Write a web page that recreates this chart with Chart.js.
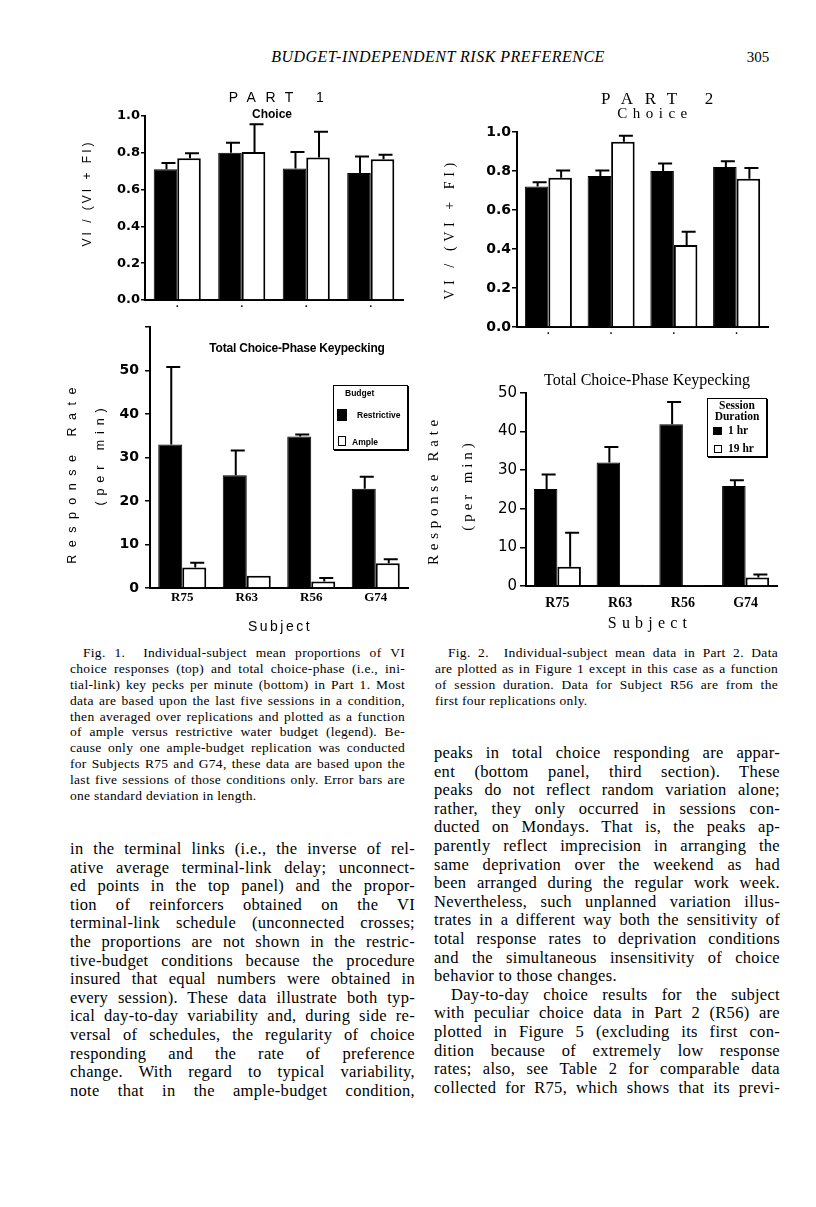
<!DOCTYPE html>
<html>
<head>
<meta charset="utf-8">
<script src="https://cdn.jsdelivr.net/npm/chart.js@4.4.1/dist/chart.umd.min.js"></script>
<style>
  html, body { margin: 0; padding: 0; background: #fff; }
  #page { position: relative; width: 816px; height: 1207px; overflow: hidden; color: #000; font-family: 'Liberation Serif', 'Times New Roman', serif; }
  canvas { position: absolute; }
  .t { position: absolute; white-space: nowrap; line-height: 1; transform: translate(-50%, -50%); }
  .l { position: absolute; white-space: nowrap; line-height: 1; transform: translate(0, -50%); }
  .rot { transform: translate(-50%, -50%) rotate(-90deg); }
  .sans { font-family: 'Liberation Sans', Arial, sans-serif; }
  .serif { font-family: 'Liberation Serif', 'Times New Roman', serif; }
  .col { position: absolute; font-size: 16.5px; line-height: 18.6px; letter-spacing: 0.3px; }
  .col div { text-align: justify; text-align-last: justify; height: 18.6px; }
  .col div.end { text-align-last: left; }
  .col div.ind { padding-left: 17px; }
  .cap { position: absolute; font-size: 13.5px; line-height: 15.9px; letter-spacing: 0.3px; }
  .cap div { text-align: justify; text-align-last: justify; height: 15.9px; }
  .cap div.end { text-align-last: left; }
  .cap div.ind { padding-left: 13px; }
  .legend { position: absolute; box-sizing: border-box; border: 1.5px solid #000; box-shadow: 1px 1px 0 #000; background: #fff; }
  .sw { position: absolute; box-sizing: border-box; border: 1.5px solid #000; }
</style>
</head>
<body>
<div id="page">
  <div class="t serif" style="left:438px; top:57px; font-size:16px; font-style:italic; letter-spacing:0.5px;">BUDGET-INDEPENDENT RISK PREFERENCE</div>
  <div class="t serif" style="left:758px; top:57px; font-size:15px;">305</div>

  <canvas id="choice1"></canvas>
  <canvas id="choice2"></canvas>
  <canvas id="rate1"></canvas>
  <canvas id="rate2"></canvas>

  <!-- Part 1, top -->
  <div class="t sans" style="left:281px; top:97px; font-size:14px; letter-spacing:9.5px;">PART 1</div>
  <div class="t sans" style="left:272px; top:114px; font-size:12px; font-weight:bold;">Choice</div>
  <div class="t sans rot" style="left:87px; top:193px; font-size:12px; letter-spacing:3px;">VI / (VI + FI)</div>

  <!-- Part 2, top -->
  <div class="t serif" style="left:663px; top:98px; font-size:17px; letter-spacing:11.8px;">PART 2</div>
  <div class="t serif" style="left:655px; top:113px; font-size:15px; letter-spacing:5.5px;">Choice</div>
  <div class="t serif rot" style="left:450px; top:229px; font-size:14px; letter-spacing:4.6px;">VI / (VI + FI)</div>

  <!-- Part 1, bottom -->
  <div class="t sans" style="left:297px; top:348px; font-size:12px; font-weight:bold; letter-spacing:-0.2px;">Total Choice-Phase Keypecking</div>
  <div class="t sans rot" style="left:72px; top:472px; font-size:12.5px; letter-spacing:7.5px;">Response Rate</div>
  <div class="t sans rot" style="left:100px; top:454px; font-size:12.5px; letter-spacing:5.9px;">(per min)</div>
  <div class="t sans" style="left:280px; top:626px; font-size:14px; letter-spacing:2.5px;">Subject</div>
  <div class="legend" id="legend1" style="left:333px; top:385px; width:75px; height:65px;"></div>

  <!-- Part 2, bottom -->
  <div class="t serif" style="left:647px; top:380px; font-size:16px;">Total Choice-Phase Keypecking</div>
  <div class="t serif rot" style="left:433px; top:490px; font-size:15px; letter-spacing:4.7px;">Response Rate</div>
  <div class="t serif rot" style="left:467px; top:485px; font-size:15px; letter-spacing:3.9px;">(per min)</div>
  <div class="t serif" style="left:650px; top:623px; font-size:16px; letter-spacing:5.2px;">Subject</div>
  <div class="legend" id="legend2" style="left:707px; top:398px; width:60px; height:59px;"></div>

  <div class="cap" style="left:70px; top:645px; width:335px;">
    <div class="ind">Fig. 1.&nbsp; Individual-subject mean proportions of VI</div>
    <div>choice responses (top) and total choice-phase (i.e., ini-</div>
    <div>tial-link) key pecks per minute (bottom) in Part 1. Most</div>
    <div>data are based upon the last five sessions in a condition,</div>
    <div>then averaged over replications and plotted as a function</div>
    <div>of ample versus restrictive water budget (legend). Be-</div>
    <div>cause only one ample-budget replication was conducted</div>
    <div>for Subjects R75 and G74, these data are based upon the</div>
    <div>last five sessions of those conditions only. Error bars are</div>
    <div class="end">one standard deviation in length.</div>
  </div>

  <div class="cap" style="left:435px; top:645px; width:343px;">
    <div class="ind">Fig. 2.&nbsp; Individual-subject mean data in Part 2. Data</div>
    <div>are plotted as in Figure 1 except in this case as a function</div>
    <div>of session duration. Data for Subject R56 are from the</div>
    <div class="end">first four replications only.</div>
  </div>

  <div class="col" style="left:70px; top:840px; width:345px;">
    <div>in the terminal links (i.e., the inverse of rel-</div>
    <div>ative average terminal-link delay; unconnect-</div>
    <div>ed points in the top panel) and the propor-</div>
    <div>tion of reinforcers obtained on the VI</div>
    <div>terminal-link schedule (unconnected crosses;</div>
    <div>the proportions are not shown in the restric-</div>
    <div>tive-budget conditions because the procedure</div>
    <div>insured that equal numbers were obtained in</div>
    <div>every session). These data illustrate both typ-</div>
    <div>ical day-to-day variability and, during side re-</div>
    <div>versal of schedules, the regularity of choice</div>
    <div>responding and the rate of preference</div>
    <div>change. With regard to typical variability,</div>
    <div>note that in the ample-budget condition,</div>
  </div>

  <div class="col" style="left:434px; top:744px; width:346px;">
    <div>peaks in total choice responding are appar-</div>
    <div>ent (bottom panel, third section). These</div>
    <div>peaks do not reflect random variation alone;</div>
    <div>rather, they only occurred in sessions con-</div>
    <div>ducted on Mondays. That is, the peaks ap-</div>
    <div>parently reflect imprecision in arranging the</div>
    <div>same deprivation over the weekend as had</div>
    <div>been arranged during the regular work week.</div>
    <div>Nevertheless, such unplanned variation illus-</div>
    <div>trates in a different way both the sensitivity of</div>
    <div>total response rates to deprivation conditions</div>
    <div>and the simultaneous insensitivity of choice</div>
    <div class="end">behavior to those changes.</div>
    <div class="ind">Day-to-day choice results for the subject</div>
    <div>with peculiar choice data in Part 2 (R56) are</div>
    <div>plotted in Figure 5 (excluding its first con-</div>
    <div>dition because of extremely low response</div>
    <div>rates; also, see Table 2 for comparable data</div>
    <div>collected for R75, which shows that its previ-</div>
  </div>
</div>

<script>
// data
const subjects = ['R75', 'R63', 'R56', 'G74'];

const part1Series = ['Restrictive', 'Ample'];
const part2Series = ['1 hr', '19 hr'];

// Part 1, choice proportions (top left)
const p1ChoiceRestrictive = [0.71, 0.80, 0.715, 0.69];
const p1ChoiceRestrictiveSd = [0.035, 0.055, 0.09, 0.09];
const p1ChoiceAmple = [0.77, 0.805, 0.775, 0.765];
const p1ChoiceAmpleSd = [0.027, 0.15, 0.14, 0.025];

// Part 2, choice proportions (top right)
const p2Choice1hr = [0.72, 0.775, 0.80, 0.82];
const p2Choice1hrSd = [0.022, 0.028, 0.038, 0.03];
const p2Choice19hr = [0.765, 0.95, 0.42, 0.76];
const p2Choice19hrSd = [0.037, 0.031, 0.068, 0.056];

// Part 1, response rates (bottom left)
const p1RateRestrictive = [33.0, 25.9, 34.8, 22.8];
const p1RateRestrictiveSd = [17.8, 5.7, 0.5, 2.8];
const p1RateAmple = [4.7, 2.8, 1.5, 5.7];
const p1RateAmpleSd = [1.1, 0, 0.8, 0.9];

// Part 2, response rates (bottom right)
const p2Rate1hr = [25.1, 32.0, 41.9, 25.9];
const p2Rate1hrSd = [3.8, 4.0, 5.8, 1.5];
const p2Rate19hr = [5.0, 0.3, 0.1, 2.2];
const p2Rate19hrSd = [8.8, 0, 0, 0.8];

const choiceTickLabels = ['0.0', '0.2', '0.4', '0.6', '0.8', '1.0'];
const rate1TickLabels = ['0', '10', '20', '30', '40', '50', ''];
const rate2TickLabels = ['0', '10', '20', '30', '40', '50'];

// error bars go up only, one sd long
const errorBars = {
  id: 'errorBars',
  afterDatasetsDraw(chart) {
    const ctx = chart.ctx;
    const yScale = chart.scales.y;
    chart.data.datasets.forEach((ds, i) => {
      chart.getDatasetMeta(i).data.forEach((bar, j) => {
        const sd = ds.sd[j];
        if (!sd) return;
        const top = yScale.getPixelForValue(ds.data[j] + sd);
        ctx.save();
        ctx.strokeStyle = '#000';
        ctx.lineWidth = 2;
        ctx.beginPath();
        ctx.moveTo(bar.x + 1, bar.y);
        ctx.lineTo(bar.x + 1, top);
        ctx.moveTo(bar.x - 4, top);
        ctx.lineTo(bar.x + 10, top);
        ctx.stroke();
        ctx.restore();
      });
    });
  }
};

const makeChart = (id, box, area, opt) => {
  const canvas = document.getElementById(id);
  canvas.width = box.w;
  canvas.height = box.h;
  canvas.style.left = `${box.x}px`;
  canvas.style.top = `${box.y}px`;

  return new Chart(canvas.getContext('2d'), {
    type: 'bar',
    data: {
      labels: subjects,
      datasets: opt.sets.map((s, i) => ({
        label: s.label,
        data: s.data,
        sd: s.sd,
        backgroundColor: i === 0 ? '#000' : '#fff',
        borderColor: '#000',
        borderWidth: i === 0 ? 1 : 2,
        barPercentage: 1,
        categoryPercentage: opt.catPct
      }))
    },
    options: {
      responsive: false,
      animation: false,
      events: [],
      layout: { padding: { top: area.t, right: box.w - area.r, left: 0, bottom: 0 } },
      plugins: { legend: { display: false }, tooltip: { enabled: false } },
      scales: {
        x: {
          ticks: {
            color: '#000',
            autoSkip: false,
            maxRotation: 0,
            padding: opt.xPad,
            font: opt.xFont,
            callback: (v, i) => opt.dots ? '.' : subjects[i]
          },
          grid: { display: false, drawTicks: false },
          border: { display: true, color: '#000', width: 2 },
          afterFit: s => { s.height = box.h - area.b; s.paddingLeft = 0; s.paddingRight = 0; }
        },
        y: {
          min: 0,
          max: opt.yMax,
          ticks: {
            stepSize: opt.yStep,
            color: '#000',
            padding: opt.yPad,
            font: opt.yFont,
            callback: (v, i) => opt.yLabels[i]
          },
          grid: { display: true, drawOnChartArea: false, drawTicks: true, tickLength: opt.tickLen, color: '#000', lineWidth: 1.5 },
          border: { display: true, color: '#000', width: 2 },
          afterFit: s => { s.width = area.l; s.paddingTop = 0; s.paddingBottom = 0; }
        }
      }
    },
    plugins: [errorBars]
  });
};

makeChart('choice1', { x: 60, y: 80, w: 350, h: 240 }, { l: 85, t: 36, r: 343, b: 220 }, {
  sets: [
    { label: part1Series[0], data: p1ChoiceRestrictive, sd: p1ChoiceRestrictiveSd },
    { label: part1Series[1], data: p1ChoiceAmple, sd: p1ChoiceAmpleSd }
  ],
  catPct: 0.73, yMax: 1, yStep: 0.2, yLabels: choiceTickLabels, tickLen: 4, yPad: 1,
  yFont: { family: 'DejaVu Sans', size: 13, weight: 'bold' },
  xFont: { family: 'DejaVu Sans', size: 8, weight: 'bold' }, xPad: 0, dots: true
});

makeChart('choice2', { x: 420, y: 80, w: 380, h: 260 }, { l: 97, t: 52, r: 348, b: 247 }, {
  sets: [
    { label: part2Series[0], data: p2Choice1hr, sd: p2Choice1hrSd },
    { label: part2Series[1], data: p2Choice19hr, sd: p2Choice19hrSd }
  ],
  catPct: 0.75, yMax: 1, yStep: 0.2, yLabels: choiceTickLabels, tickLen: 5, yPad: 1,
  yFont: { family: 'DejaVu Sans', size: 14, weight: 'bold' },
  xFont: { family: 'DejaVu Sans', size: 8, weight: 'bold' }, xPad: 0, dots: true
});

makeChart('rate1', { x: 60, y: 320, w: 350, h: 320 }, { l: 90, t: 7, r: 348, b: 268 }, {
  sets: [
    { label: part1Series[0], data: p1RateRestrictive, sd: p1RateRestrictiveSd },
    { label: part1Series[1], data: p1RateAmple, sd: p1RateAmpleSd }
  ],
  catPct: 0.744, yMax: 60, yStep: 10, yLabels: rate1TickLabels, tickLen: 5, yPad: 6,
  yFont: { family: 'DejaVu Sans', size: 14, weight: 'bold' },
  xFont: { family: 'Liberation Serif', size: 13, weight: 'bold' }, xPad: 2, dots: false
});

makeChart('rate2', { x: 420, y: 360, w: 380, h: 280 }, { l: 106, t: 33, r: 357, b: 226 }, {
  sets: [
    { label: part2Series[0], data: p2Rate1hr, sd: p2Rate1hrSd },
    { label: part2Series[1], data: p2Rate19hr, sd: p2Rate19hrSd }
  ],
  catPct: 0.75, yMax: 50, yStep: 10, yLabels: rate2TickLabels, tickLen: 6, yPad: 3,
  yFont: { family: 'DejaVu Sans', size: 15 },
  xFont: { family: 'Liberation Serif', size: 14, weight: 'bold' }, xPad: 9, dots: false
});

// legends are plain boxes, filled from the series names
document.getElementById('legend1').innerHTML = `
  <div class="l sans" style="left:11px; top:7px; font-size:8.5px; font-weight:bold;">Budget</div>
  <div class="sw" style="left:3px; top:23px; width:10px; height:12px; background:#000;"></div>
  <div class="l sans" style="left:23px; top:29px; font-size:8.5px; font-weight:bold;">${part1Series[0]}</div>
  <div class="sw" style="left:4px; top:50px; width:8px; height:10px; background:#fff;"></div>
  <div class="l sans" style="left:18px; top:56px; font-size:8.5px; font-weight:bold;">${part1Series[1]}</div>
`;

document.getElementById('legend2').innerHTML = `
  <div class="t serif" style="left:29px; top:7px; font-size:11.5px; font-weight:bold;">Session</div>
  <div class="t serif" style="left:29px; top:18px; font-size:11.5px; font-weight:bold;">Duration</div>
  <div class="sw" style="left:5px; top:28px; width:9px; height:8px; background:#000;"></div>
  <div class="l serif" style="left:20px; top:32px; font-size:11.5px; font-weight:bold;">${part2Series[0]}</div>
  <div class="sw" style="left:6px; top:46px; width:8px; height:8px; background:#fff;"></div>
  <div class="l serif" style="left:20px; top:50px; font-size:11.5px; font-weight:bold;">${part2Series[1]}</div>
`;
</script>
</body>
</html>
